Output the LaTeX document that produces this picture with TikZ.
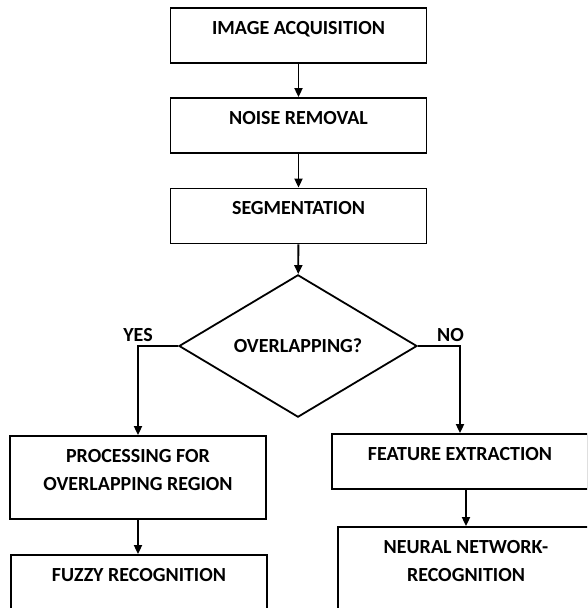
\documentclass[tikz,border=0pt]{standalone}
\usepackage{fontspec}
\setmainfont{Carlito}
\usetikzlibrary{shapes,arrows.meta,positioning,calc}

\begin{document}
\begin{tikzpicture}[
    x = 1pt, y = -1pt,
    every node/.style = {font=\fontsize{20}{28}\selectfont\bfseries},
    stage/.style = {draw, line width=1.8pt, minimum width=256pt, inner sep=0pt,
      align=center, text height=26pt, text depth=29pt},
    stagetall/.style = {stage, text depth=57pt},
    stagetwo/.style = {stage, text height=54pt},
    test/.style = {draw, diamond, line width=1.8pt, inner sep=0pt,
      minimum width=238pt, minimum height=136pt},
    flow/.style = {line width=1.8pt, -{Triangle[length=9pt, width=8pt]}},
    answer/.style = {inner sep=0pt}
  ]
  \clip (0,0) rectangle (587,608);
  \node[stage] (acq) at (298.5,35.5) {IMAGE ACQUISITION};
  \node[stage] (noise) at (298.5,125.5) {NOISE REMOVAL};
  \node[stage] (seg) at (298.5,216) {SEGMENTATION};
  \node[test] (overlap) at (298,346) {OVERLAPPING?};
  \node[stagetwo] (proc) at (138,477.5) {PROCESSING FOR\\OVERLAPPING REGION};
  \node[stagetall] (fuzzy) at (139,596.5) {FUZZY RECOGNITION};
  \node[stage] (feat) at (460,461.5) {FEATURE EXTRACTION};
  \node[stagetwo] (neural) at (466,568.5) {NEURAL NETWORK-\\RECOGNITION};

  \draw[flow] (acq) -- (noise);
  \draw[flow] (noise) -- (seg);
  \draw[flow] (seg) -- (overlap);
  \draw[flow] (overlap.west) -| (proc.north);
  \draw[flow] (overlap.east) -| (feat.north);
  \draw[flow] (proc.south) -- (proc.south |- fuzzy.north);
  \draw[flow] (feat.south -| neural.north) -- (neural.north);

  \node[answer, anchor=base] (yes) at ([yshift=4.5pt]overlap.west -| proc.north) {YES};
  \node[answer, anchor=base east] (no) at ([shift={(4,-4.5)}]overlap.east -| feat.north) {NO};
\end{tikzpicture}
\end{document}
